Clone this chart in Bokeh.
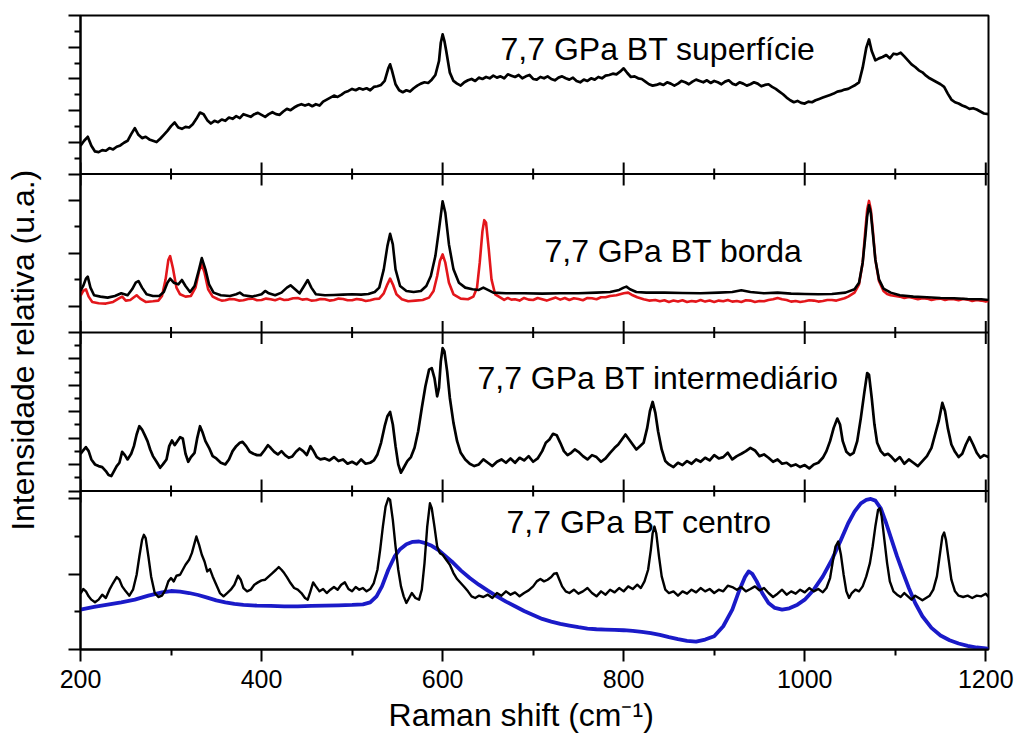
from bokeh.plotting import figure
from bokeh.models import FixedTicker, Span, ColumnDataSource, CustomJSTickFormatter
from bokeh.embed import file_html
from bokeh.resources import INLINE
from bokeh.core.properties import value

# ---------------------------------------------------------------- spectra
# Raman shift (cm-1) and relative intensity (a.u.), one pair of lists per spectrum

sup_x = [200, 204, 208, 212, 216, 220, 224, 228, 232, 236, 240, 244, 248, 252, 256, 260, 264, 268, 272, 276,
         280, 284, 288, 292, 296, 300, 304, 308, 312, 316, 320, 324, 328, 332, 336, 340, 344, 348, 352, 356,
         360, 364, 368, 372, 376, 380, 384, 388, 392, 396, 400, 404, 408, 412, 416, 420, 424, 428, 432, 436,
         440, 444, 448, 452, 456, 460, 464, 468, 472, 476, 480, 484, 488, 492, 496, 500, 504, 508, 512, 516,
         520, 524, 528, 532, 536, 540, 542, 544, 548, 552, 556, 560, 564, 568, 572, 576, 580, 584, 588, 592,
         596, 598, 600, 602, 604, 608, 612, 616, 620, 624, 628, 632, 636, 640, 644, 648, 652, 656, 660, 664,
         668, 672, 676, 680, 684, 688, 692, 696, 700, 704, 708, 712, 716, 720, 724, 728, 732, 736, 740, 744,
         748, 752, 756, 760, 764, 768, 772, 776, 780, 784, 788, 792, 796, 800, 804, 808, 812, 816, 820, 824,
         828, 832, 836, 840, 844, 848, 852, 856, 860, 864, 868, 872, 876, 880, 884, 888, 892, 896, 900, 904,
         908, 912, 916, 920, 924, 928, 932, 936, 940, 944, 948, 952, 956, 960, 964, 968, 972, 976, 980, 984,
         988, 992, 996, 1000, 1004, 1008, 1012, 1016, 1020, 1024, 1028, 1032, 1036, 1040, 1044, 1048, 1052, 1056,
         1060, 1064, 1068, 1071, 1074, 1078, 1082, 1086, 1090, 1094, 1098, 1102, 1106, 1110, 1114, 1118, 1122,
         1126, 1130, 1134, 1138, 1142, 1146, 1150, 1154, 1158, 1162, 1166, 1170, 1174, 1178, 1182, 1186, 1190,
         1194, 1198, 1203]
sup_y = [85, 100, 112, 85, 68, 66, 72, 70, 78, 74, 82, 86, 94, 100, 120, 138, 118, 108, 112, 104,
         100, 96, 106, 118, 130, 144, 155, 140, 136, 142, 140, 150, 166, 185, 180, 162, 152, 160, 156, 164,
         160, 170, 166, 174, 168, 180, 176, 172, 180, 184, 178, 172, 180, 186, 180, 178, 188, 196, 192, 200,
         206, 210, 206, 210, 204, 210, 206, 218, 224, 230, 236, 232, 238, 246, 250, 256, 252, 258, 254, 258,
         252, 262, 264, 268, 280, 318, 330, 312, 270, 252, 246, 252, 248, 258, 266, 272, 276, 274, 284, 298,
         340, 395, 420, 400, 370, 305, 280, 272, 266, 276, 282, 286, 280, 290, 286, 292, 288, 296, 290, 294,
         288, 300, 296, 292, 298, 288, 294, 298, 286, 284, 292, 288, 294, 286, 282, 290, 294, 288, 284, 290,
         280, 276, 284, 280, 288, 284, 292, 288, 296, 298, 302, 300, 308, 318, 304, 292, 294, 288, 286, 278,
         270, 266, 268, 272, 268, 276, 272, 266, 272, 280, 276, 270, 278, 284, 280, 276, 282, 274, 280, 276,
         270, 278, 282, 272, 268, 276, 272, 266, 270, 276, 272, 264, 268, 270, 262, 256, 248, 240, 230, 222,
         216, 220, 214, 212, 218, 216, 222, 226, 230, 234, 238, 242, 248, 250, 254, 256, 262, 268,
         276, 320, 380, 405, 370, 342, 348, 352, 358, 348, 362, 360, 365, 354, 342, 330, 322,
         312, 306, 296, 288, 282, 276, 270, 262, 242, 224, 216, 212, 206, 202, 196, 198, 194,
         188, 182, 180]

bor_x = [200, 203, 206, 208, 211, 215, 222, 230, 238, 245, 252, 257, 261, 264, 268, 273, 280, 287, 292, 296,
         299, 303, 308, 312, 316, 321, 326, 330, 334, 338, 342, 347, 355, 365, 372, 376, 380, 390, 400, 404,
         408, 415, 422, 428, 432, 437, 442, 447, 451, 455, 460, 470, 480, 490, 500, 510, 518, 525, 530, 535,
         539, 542, 545, 548, 553, 560, 568, 576, 582, 587, 592, 596, 600, 603, 607, 612, 618, 625, 633, 640,
         645, 650, 656, 670, 690, 710, 730, 750, 770, 785, 795, 800, 803, 807, 814, 825, 845, 865, 885, 905,
         920, 930, 940, 955, 970, 985, 1000, 1015, 1030, 1045, 1055, 1060, 1064, 1067, 1069, 1071, 1073, 1075,
         1078, 1082, 1087, 1095, 1105, 1120, 1135, 1150, 1165, 1180, 1195, 1203]
bor_y = [125, 140, 162, 168, 135, 112, 108, 105, 110, 118, 112, 130, 150, 155, 135, 115, 110, 110, 122, 150,
         162, 150, 145, 158, 140, 122, 140, 180, 224, 190, 145, 120, 112, 110, 115, 120, 112, 108, 115, 125,
         118, 112, 120, 135, 142, 130, 118, 140, 158, 135, 115, 112, 113, 114, 115, 114, 116, 122, 135, 190,
         260, 297, 265, 190, 140, 125, 122, 125, 140, 170, 230, 310, 395, 360, 265, 190, 150, 135, 130, 128,
         135, 128, 120, 118, 118, 117, 118, 118, 120, 122, 128, 135, 138, 130, 122, 120, 120, 119, 118, 120,
         122, 127, 122, 118, 120, 117, 116, 115, 116, 120, 130, 150, 210, 290, 350, 383, 360, 305,
         220, 160, 132, 120, 112, 108, 106, 104, 103, 101, 100, 98]

red_x = [200, 203, 206, 209, 213, 220, 228, 236, 242, 246, 250, 255, 259, 262, 266, 272, 280, 286, 290, 294,
         297, 299, 302, 306, 310, 316, 322, 327, 331, 334, 337, 341, 346, 352, 356, 360, 365, 370, 375, 380,
         385, 390, 395, 400, 405, 410, 415, 420, 425, 430, 435, 440, 445, 450, 455, 460, 465, 470, 475, 480,
         485, 490, 495, 500, 505, 510, 515, 520, 525, 530, 535, 539, 542, 545, 549, 555, 562, 570, 578, 585,
         590, 594, 597, 600, 603, 607, 612, 620, 628, 634, 638, 641, 644, 646, 648, 651, 654, 658, 664, 668,
         672, 676, 680, 685, 690, 695, 700, 705, 710, 715, 720, 725, 730, 735, 740, 745, 750, 755, 760, 765,
         770, 775, 780, 785, 792, 800, 805, 810, 815, 822, 828, 835, 840, 845, 850, 855, 860, 865, 870, 875,
         880, 885, 890, 895, 900, 905, 910, 915, 920, 925, 930, 935, 940, 945, 950, 955, 960, 965, 970, 975,
         980, 985, 990, 995, 1000, 1005, 1010, 1015, 1020, 1025, 1030, 1035, 1040, 1044, 1048, 1055, 1060, 1064,
         1067, 1069, 1071, 1073, 1075, 1078, 1082, 1087, 1091, 1095, 1100, 1105, 1110, 1115, 1120, 1125, 1130,
         1135, 1140, 1145, 1150, 1155, 1160, 1165, 1170, 1175, 1180, 1185, 1190, 1195, 1200, 1203]
red_y = [110, 125, 130, 108, 92, 88, 87, 92, 102, 108, 96, 98, 106, 112, 102, 92, 94, 96, 110, 160,
         218, 230, 195, 135, 115, 108, 110, 135, 185, 205, 180, 130, 108, 100, 96, 97, 101, 100, 96, 97,
         101, 102, 97, 98, 102, 100, 97, 102, 98, 99, 103, 104, 99, 101, 96, 97, 101, 100, 96, 98,
         102, 101, 97, 97, 101, 99, 95, 97, 101, 102, 118, 145, 162, 145, 115, 100, 94, 96, 98, 105,
         125, 170, 215, 235, 210, 150, 115, 102, 100, 108, 135, 210, 305, 338, 330, 250, 160, 115, 105, 98,
         104, 99, 100, 96, 104, 99, 98, 104, 100, 96, 101, 105, 99, 104, 98, 103, 101, 97, 104, 103,
         100, 106, 106, 110, 112, 118, 120, 112, 106, 100, 96, 98, 94, 97, 92, 96, 93, 97, 92, 95,
         93, 98, 93, 96, 92, 96, 94, 98, 93, 95, 92, 97, 96, 92, 95, 94, 98, 100, 104, 100,
         98, 93, 95, 92, 94, 97, 96, 93, 95, 98, 98, 96, 100, 103, 108, 120, 145, 210,
         310, 370, 396, 370, 315, 220, 155, 125, 116, 112, 110, 108, 104, 107, 104, 100, 103,
         102, 98, 101, 102, 98, 101, 100, 97, 101, 99, 95, 98, 96, 93, 95]

int_x = [200, 203, 206, 209, 212, 216, 220, 224, 228, 231, 234, 237, 240, 243, 246, 249, 252, 256, 259, 262,
         265, 268, 271, 274, 277, 280, 284, 288, 291, 295, 298, 301, 304, 307, 310, 313, 316, 319, 322, 326,
         329, 332, 335, 338, 342, 346, 350, 355, 360, 364, 368, 372, 376, 379, 383, 387, 391, 395, 399, 403,
         407, 410, 414, 418, 422, 426, 430, 434, 438, 442, 446, 450, 454, 457, 461, 465, 470, 475, 480, 485,
         490, 495, 500, 505, 510, 515, 520, 524, 528, 532, 536, 539, 542, 545, 548, 551, 554, 557, 561, 565,
         569, 573, 577, 581, 585, 588, 591, 594, 596, 598, 600, 602, 605, 608, 612, 616, 620, 625, 630, 635,
         640, 645, 650, 655, 660, 665, 670, 675, 680, 685, 690, 695, 700, 705, 710, 714, 718, 722, 726, 730,
         734, 738, 742, 746, 750, 755, 760, 765, 770, 775, 780, 785, 790, 794, 798, 802, 806, 810, 814, 818,
         822, 826, 829, 832, 835, 838, 842, 846, 850, 855, 860, 865, 870, 875, 880, 885, 890, 895, 900, 905,
         910, 915, 920, 925, 930, 935, 940, 945, 950, 955, 960, 965, 970, 975, 980, 985, 990, 995, 1000, 1005,
         1010, 1015, 1020, 1024, 1028, 1032, 1036, 1039, 1042, 1046, 1050, 1054, 1058, 1062, 1066, 1069, 1071,
         1074, 1077, 1080, 1084, 1088, 1092, 1096, 1100, 1105, 1110, 1115, 1120, 1125, 1130, 1135, 1140, 1144,
         1148, 1152, 1155, 1158, 1162, 1166, 1170, 1174, 1178, 1182, 1186, 1190, 1194, 1198, 1203]
int_y = [112, 122, 132, 120, 95, 80, 75, 72, 60, 48, 45, 60, 75, 85, 118, 108, 95, 112, 135, 170,
         195, 185, 168, 150, 125, 105, 88, 70, 80, 95, 135, 152, 138, 150, 162, 158, 112, 88, 102, 115,
         160, 195, 175, 150, 130, 105, 98, 85, 80, 95, 120, 135, 145, 148, 135, 118, 112, 108, 108, 122,
         138, 130, 118, 110, 120, 108, 100, 104, 118, 128, 120, 108, 135, 122, 102, 95, 98, 92, 102, 90,
         95, 82, 88, 80, 95, 82, 85, 92, 110, 145, 195, 225, 238, 200, 135, 80, 55, 70, 90, 102,
         130, 180, 250, 315, 365, 370, 340, 285, 310, 390, 430, 420, 360, 280, 205, 150, 115, 95, 82, 75,
         80, 95, 85, 75, 88, 95, 85, 98, 85, 100, 92, 105, 88, 98, 120, 145, 155, 172, 168, 145,
         120, 108, 115, 125, 118, 105, 95, 108, 102, 88, 98, 115, 130, 140, 155, 170, 155, 140, 125, 135,
         145, 190, 240, 268, 235, 180, 125, 90, 80, 72, 85, 78, 90, 82, 95, 88, 100, 92, 108, 98,
         102, 115, 95, 105, 112, 120, 130, 122, 105, 110, 100, 88, 95, 82, 85, 75, 80, 72, 78, 68,
         80, 85, 100, 120, 150, 190, 218, 200, 150, 118, 108, 115, 150, 220, 300, 355, 350,
         280, 200, 145, 120, 108, 112, 102, 90, 102, 82, 95, 85, 75, 90, 105, 130, 170,
         210, 265, 240, 190, 140, 118, 102, 112, 140, 162, 140, 115, 100, 108, 102]

cen_x = [200, 203, 206, 209, 212, 216, 220, 224, 228, 232, 236, 240, 243, 246, 250, 254, 258, 262, 265, 268,
         270, 272, 275, 278, 282, 286, 290, 294, 297, 300, 303, 306, 310, 313, 316, 320, 323, 326, 328, 331,
         334, 337, 340, 343, 346, 350, 354, 358, 362, 366, 370, 374, 377, 380, 384, 388, 392, 396, 400, 404,
         408, 412, 416, 419, 422, 425, 428, 432, 436, 440, 444, 448, 451, 454, 457, 460, 464, 468, 472, 476,
         480, 484, 488, 492, 496, 500, 504, 508, 512, 516, 520, 524, 528, 531, 534, 537, 540, 542, 545, 548,
         551, 554, 557, 560, 563, 566, 570, 574, 577, 580, 583, 586, 588, 591, 594, 597, 600, 604, 608, 612,
         616, 620, 624, 628, 632, 636, 640, 645, 650, 655, 660, 665, 670, 675, 680, 685, 690, 695, 700, 704,
         708, 712, 716, 720, 723, 726, 729, 732, 736, 740, 745, 750, 755, 760, 765, 770, 775, 780, 785, 790,
         795, 800, 805, 810, 815, 819, 823, 827, 830, 832, 834, 836, 839, 842, 846, 850, 855, 860, 865, 870,
         875, 880, 885, 890, 895, 900, 905, 910, 915, 920, 925, 930, 935, 940, 945, 950, 955, 960, 965, 970,
         975, 980, 985, 990, 995, 1000, 1005, 1010, 1015, 1020, 1024, 1028, 1031, 1034, 1037, 1040, 1043, 1046,
         1049, 1052, 1056, 1060, 1064, 1068, 1072, 1075, 1078, 1081, 1083, 1085, 1088, 1091, 1094, 1098, 1102,
         1106, 1110, 1114, 1118, 1122, 1126, 1130, 1134, 1138, 1142, 1146, 1149, 1152, 1154, 1156, 1159, 1162,
         1166, 1170, 1175, 1180, 1185, 1190, 1195, 1200, 1203]
cen_y = [168, 182, 175, 160, 150, 142, 150, 165, 155, 180, 200, 218, 210, 190, 175, 162, 180, 225, 280, 330,
         345, 335, 280, 220, 170, 158, 162, 180, 205, 215, 205, 222, 225, 240, 255, 270, 290, 320, 340, 315,
         285, 265, 235, 242, 220, 195, 170, 160, 170, 180, 195, 222, 210, 185, 175, 180, 195, 202, 208, 210,
         220, 230, 240, 248, 240, 230, 218, 200, 185, 180, 170, 155, 150, 175, 202, 190, 175, 182, 170, 180,
         188, 180, 195, 202, 182, 175, 188, 180, 185, 175, 182, 200, 240, 300, 370, 430, 455, 450, 390, 310,
         240, 190, 160, 140, 155, 170, 155, 150, 180, 260, 370, 440, 425, 370, 310, 290, 285, 270, 255, 230,
         212, 200, 188, 175, 160, 155, 162, 158, 165, 155, 170, 162, 175, 165, 172, 160, 170, 178, 190, 205,
         212, 205, 210, 218, 228, 230, 210, 190, 175, 170, 180, 168, 175, 185, 170, 160, 175, 165, 180, 172,
         185, 175, 190, 182, 195, 185, 205, 240, 300, 350, 370, 350, 280, 220, 180, 170, 175, 162, 175, 168,
         180, 172, 185, 175, 182, 170, 180, 175, 192, 188, 180, 188, 175, 182, 190, 178, 185, 170, 158, 168,
         180, 165, 175, 168, 180, 172, 185, 175, 182, 172, 185, 215, 265, 310, 325, 285, 225, 175,
         155, 170, 180, 175, 190, 220, 260, 310, 370, 420, 425, 400, 330, 260, 205, 175, 165,
         158, 170, 160, 150, 162, 155, 148, 155, 162, 180, 220, 280, 340, 352, 330, 270, 210,
         175, 162, 158, 162, 155, 162, 160, 168, 158]

blue_x = [200, 215, 230, 245, 260, 275, 290, 300, 310, 320, 330, 340, 350, 360, 370, 380, 395, 410, 425, 440,
          455, 470, 485, 500, 512, 520, 527, 533, 540, 547, 553, 560, 567, 574, 581, 588, 595, 602, 610, 620,
          630, 640, 650, 660, 670, 680, 690, 700, 710, 720, 730, 740, 750, 760, 770, 780, 790, 800, 810, 820,
          830, 840, 850, 860, 870, 880, 890, 900, 910, 920, 928, 934, 938, 942, 947, 953, 960, 967, 975, 983,
          992, 1000, 1010, 1020, 1030, 1040, 1048, 1055, 1062, 1068, 1073, 1078, 1084, 1090, 1096, 1102, 1108,
          1115, 1122, 1130, 1140, 1150, 1160, 1170, 1180, 1190, 1200, 1203]
blue_y = [120, 128, 135, 142, 150, 162, 172, 176, 174, 170, 164, 156, 148, 142, 137, 134, 132, 131, 130, 130,
          131, 132, 133, 134, 136, 142, 160, 190, 240, 280, 302, 317, 324, 325, 320, 312, 300, 284, 265, 238,
          215, 195, 177, 160, 144, 130, 116, 104, 92, 84, 77, 72, 67, 63, 61, 60, 59, 58, 56, 53,
          49, 44, 37, 31, 26, 24, 30, 40, 70, 120, 180, 218, 235, 228, 205, 170, 140, 125, 120, 124,
          135, 150, 180, 220, 270, 330, 380, 415, 440, 450, 453, 448, 425, 380, 330, 280, 235,
          185, 140, 100, 65, 42, 28, 18, 11, 6, 3, 2]

panel_labels = ["7,7 GPa BT superfície", "7,7 GPa BT borda", "7,7 GPa BT intermediário", "7,7 GPa BT centro"]
x_title = "Raman shift (cm⁻¹)"
y_title = "Intensidade relativa (u.a.)"
x_ticks = [200, 400, 600, 800, 1000, 1200]
x_minor_ticks = [300, 500, 700, 900, 1100]

# ---------------------------------------------------------------- layout of the stacked panels
PANEL = 477.0                       # height of one panel in intensity units
N_PANELS = 4
Y_TOP = N_PANELS * PANEL
OFF_CEN, OFF_INT, OFF_BOR, OFF_SUP = 0.0, PANEL, 2 * PANEL, 3 * PANEL
FRAME_H_PX = 634.0
UNITS_PER_PX = Y_TOP / FRAME_H_PX
NBSP = "\u00a0"

FONT = "Liberation Sans"
BLACK = "#000000"
RED = "#e3161b"
BLUE = "#1a1ac8"

p = figure(width=1014, height=744, x_range=(200, 1203), y_range=(0, Y_TOP),
           output_backend="svg", toolbar_location=None,
           min_border_left=80, min_border_right=26, min_border_top=15, min_border_bottom=95)
p.background_fill_color = "white"
p.border_fill_color = "white"
p.grid.visible = False
p.outline_line_color = BLACK
p.outline_line_width = 2

# bottom axis
xa = p.xaxis[0]
xa.ticker = FixedTicker(ticks=x_ticks, minor_ticks=x_minor_ticks)
xa.major_tick_out = 12
xa.major_tick_in = 0
xa.minor_tick_out = 6
xa.minor_tick_in = 0
xa.axis_line_width = 2
xa.major_tick_line_width = 2
xa.minor_tick_line_width = 2
xa.major_label_text_font = FONT
xa.major_label_text_font_size = "25px"
xa.major_label_text_color = BLACK
xa.major_label_standoff = 8
# trailing non-breaking spaces nudge the centred title slightly left
xa.axis_label = x_title + NBSP * 3
xa.axis_label_text_font = FONT
xa.axis_label_text_font_size = "32px"
xa.axis_label_text_font_style = "normal"
xa.axis_label_text_color = BLACK
xa.axis_label_standoff = 6

# left axis: long and short ticks per panel, no numbers
def panel_ticks(bottom, n_div, long_from_top):
    step = PANEL / n_div
    major, minor = [], []
    for k in range(n_div + 1):
        yv = bottom + PANEL - k * step
        if (k % 2 == 0) == long_from_top:
            major.append(yv)
        else:
            minor.append(yv)
    return major, minor

maj, mino = [], []
for bottom, n_div, long_top in [(OFF_SUP, 10, True), (OFF_BOR, 6, False), (OFF_INT, 12, True)]:
    a, b = panel_ticks(bottom, n_div, long_top)
    maj += a
    mino += b
cen_step = 113.5
maj += [OFF_CEN, OFF_CEN + 2 * cen_step, OFF_CEN + 4 * cen_step]
mino += [OFF_CEN + cen_step, OFF_CEN + 3 * cen_step]
maj += [OFF_INT, OFF_BOR, OFF_SUP, Y_TOP]
maj = sorted(set(round(v, 3) for v in maj))
mino = sorted(set(round(v, 3) for v in mino) - set(maj))

ya = p.yaxis[0]
ya.ticker = FixedTicker(ticks=maj, minor_ticks=mino)
ya.formatter = CustomJSTickFormatter(code="return ''")
ya.major_tick_out = 12
ya.major_tick_in = 0
ya.minor_tick_out = 6
ya.minor_tick_in = 0
ya.axis_line_width = 2
ya.major_tick_line_width = 2
ya.minor_tick_line_width = 2
ya.major_label_standoff = 0
# trailing non-breaking spaces nudge the centred title slightly down
ya.axis_label = y_title + NBSP * 4
ya.axis_label_text_font = FONT
ya.axis_label_text_font_size = "32px"
ya.axis_label_text_font_style = "normal"
ya.axis_label_text_color = BLACK
ya.axis_label_standoff = 28

# panel separators with ticks crossing them
for b in (OFF_INT, OFF_BOR, OFF_SUP):
    p.add_layout(Span(location=b, dimension="width", line_color=BLACK, line_width=2))

seg_x, seg_y0, seg_y1 = [], [], []
for b in (OFF_INT, OFF_BOR, OFF_SUP):
    for xv in x_ticks + x_minor_ticks:
        half = (11.5 if xv in x_ticks else 5.5) * UNITS_PER_PX
        seg_x.append(xv)
        seg_y0.append(b - half)
        seg_y1.append(b + half)
p.segment(x0=seg_x, y0=seg_y0, x1=seg_x, y1=seg_y1, line_color=BLACK, line_width=2)

# spectra
def shifted(vals, off):
    return [v + off for v in vals]

p.line(sup_x, shifted(sup_y, OFF_SUP), line_color=BLACK, line_width=2.7, line_join="round")
p.line(red_x, shifted(red_y, OFF_BOR), line_color=RED, line_width=2.6, line_join="round")
p.line(bor_x, shifted(bor_y, OFF_BOR), line_color=BLACK, line_width=2.6, line_join="round")
p.line(int_x, shifted(int_y, OFF_INT), line_color=BLACK, line_width=2.7, line_join="round")
p.line(blue_x, shifted(blue_y, OFF_CEN), line_color=BLUE, line_width=3.8, line_join="round")
p.line(cen_x, shifted(cen_y, OFF_CEN), line_color=BLACK, line_width=2.4, line_join="round")

# panel captions
label_src = ColumnDataSource(dict(
    x=[664, 712.5, 638.5, 670.6],
    y=[OFF_SUP + 375, OFF_BOR + 244, OFF_INT + 339, OFF_CEN + 385],
    text=panel_labels,
))
p.text(x="x", y="y", text="text", source=label_src, text_font=value(FONT),
       text_font_size=value("32px"), text_color=BLACK, text_align="left", text_baseline="alphabetic")

open("out.html", "w").write(file_html(p, INLINE))
